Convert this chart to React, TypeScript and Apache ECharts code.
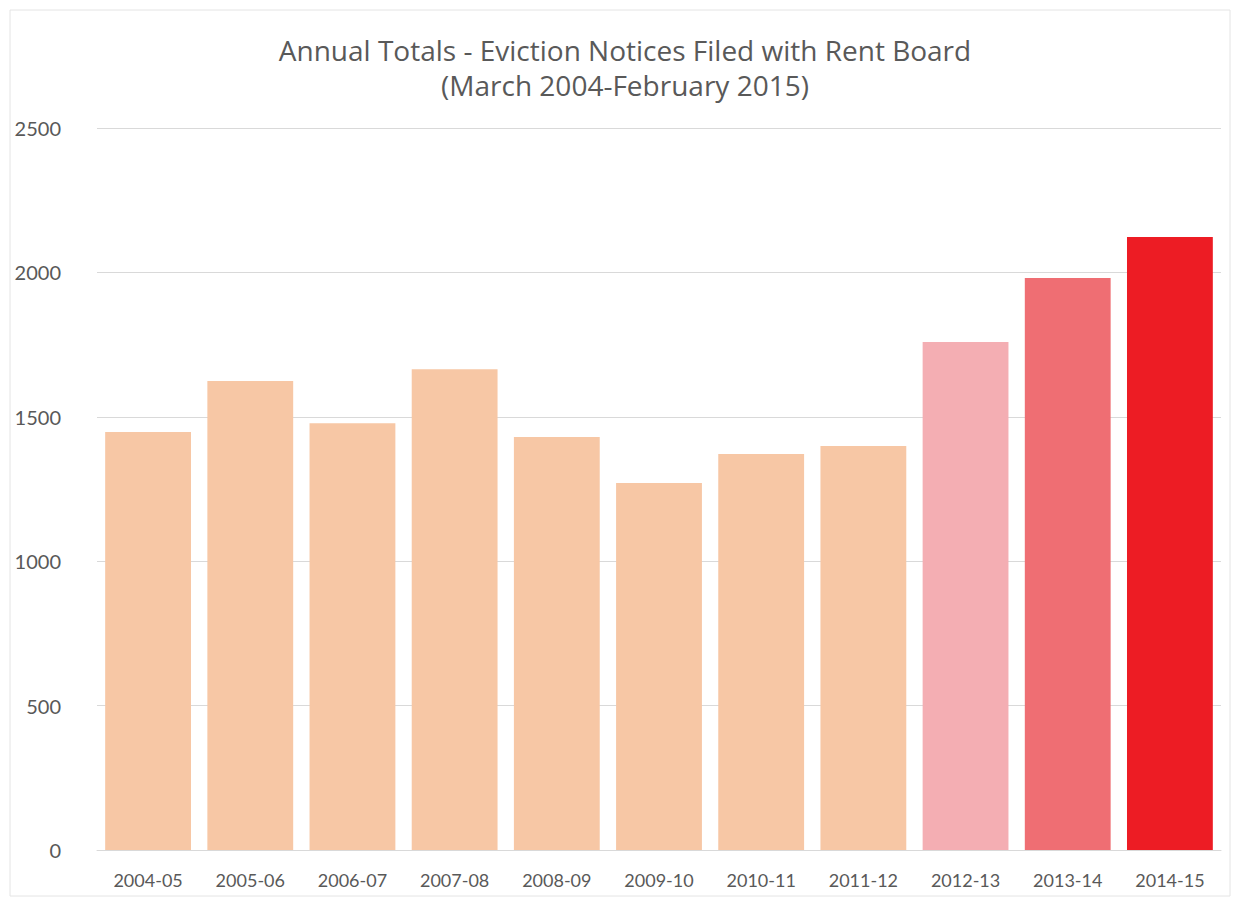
import React, { useEffect, useRef } from "react";
import * as echarts from "echarts";

const categories = ["2004-05", "2005-06", "2006-07", "2007-08", "2008-09", "2009-10", "2010-11", "2011-12", "2012-13", "2013-14", "2014-15"];
const values = [1447, 1624, 1478, 1665, 1430, 1271, 1371, 1399, 1759, 1981, 2123];
const barColors = ["#F7C7A5", "#F7C7A5", "#F7C7A5", "#F7C7A5", "#F7C7A5", "#F7C7A5", "#F7C7A5", "#F7C7A5", "#F4AEB3", "#EF6E73", "#ED1C24"];
const yTicks = [0, 500, 1000, 1500, 2000, 2500];

export default function App() {
  const ref = useRef<HTMLDivElement>(null);
  useEffect(() => {
    if (!ref.current) return;
    const chart = echarts.init(ref.current, null, { renderer: "svg" });
    chart.setOption({
      animation: false,
      backgroundColor: "#ffffff",
      title: {
        text: "Annual Totals - Eviction Notices Filed with Rent Board\n(March 2004-February 2015)",
        left: 620,
        textAlign: "center",
        top: 27,
        textStyle: { fontFamily: "Open Sans", fontSize: 28, fontWeight: "normal", color: "#595959", lineHeight: 35 },
      },
      graphic: [
        { type: "rect", shape: { x: 10, y: 10, width: 1220, height: 886 }, style: { fill: "none", stroke: "#E4E4E4", lineWidth: 1 }, silent: true },
      ],
      grid: { left: 97, right: 17, top: 128, bottom: 50 },
      xAxis: {
        type: "category",
        data: categories,
        axisTick: { show: false },
        axisLine: { show: true, lineStyle: { color: "#D9D9D9" } },
        axisLabel: { color: "#595959", fontFamily: "Lato", fontSize: 18, margin: 21 },
      },
      yAxis: {
        type: "value",
        min: yTicks[0],
        max: yTicks[yTicks.length - 1],
        interval: 500,
        axisLine: { show: false },
        axisTick: { show: false },
        splitLine: { lineStyle: { color: "#D9D9D9" } },
        axisLabel: { color: "#595959", fontFamily: "Lato", fontSize: 20, margin: 36, formatter: (v: number) => String(v) },
      },
      series: [
        {
          type: "bar",
          data: values.map((v, i) => ({ value: v, itemStyle: { color: barColors[i] } })),
          barCategoryGap: "16%",
        },
      ],
    });
    return () => chart.dispose();
  }, []);
  return <div ref={ref} style={{ position: "absolute", left: 0, top: 0, width: 1238, height: 900 }} />;
}
